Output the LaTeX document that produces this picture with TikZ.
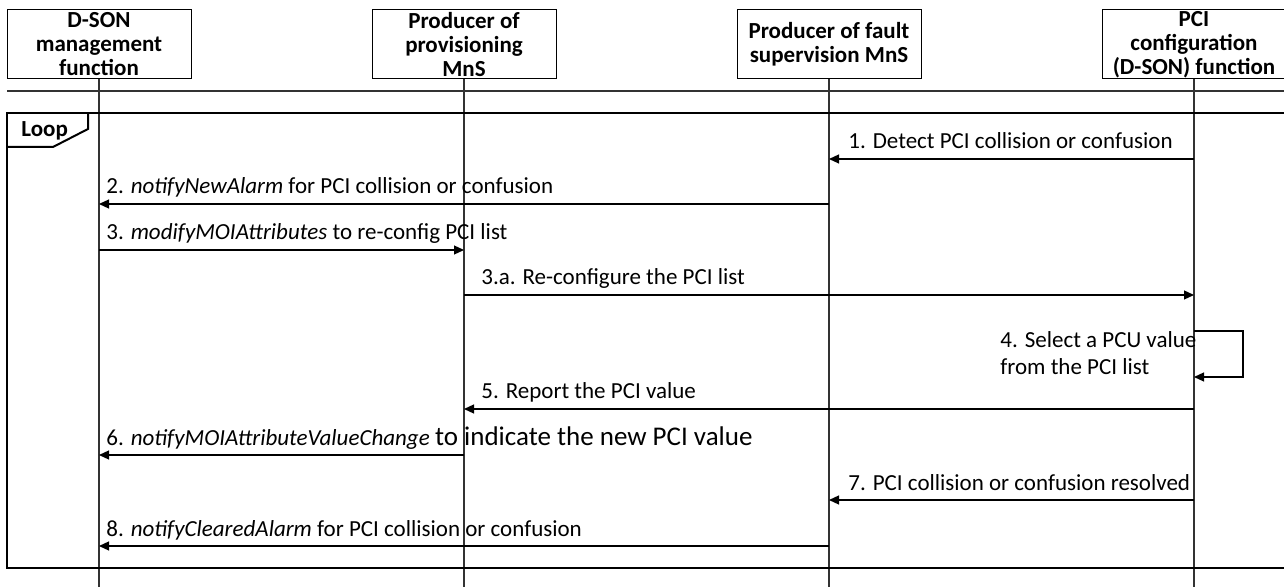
\documentclass[tikz,border=0pt]{standalone}
\usepackage{fontspec}
\setmainfont{Carlito}
\usetikzlibrary{arrows.meta}

\begin{document}
\begin{tikzpicture}[x=0.5pt, y=-0.5pt]

\tikzset{party/.style = {shape=rectangle, draw, line width=0.5pt, minimum width=92pt, minimum height=34.5pt, inner sep=0pt, align=center, font=\fontsize{11.5}{12}\selectfont\bfseries}}
\tikzset{lifeline/.style = {line width=0.6pt, draw=black!80}}
\tikzset{msg/.style = {->, > = {Triangle[length=5pt, width=4.5pt]}, line width=0.6pt}}
\tikzset{lbl/.style = {anchor=base west, inner sep=0pt, font=\fontsize{11.5}{13.5}\selectfont}}
\tikzset{frame/.style = {line width=1pt}}

\useasboundingbox (0,0) rectangle (1284,587);

%participants
\node[party] (dson) at (99,44.5) {D-SON\\management\\function};
\node[party] (prov) at (464,44.5) {Producer of\\provisioning\\MnS};
\node[party] (fault) at (829,44.5) {Producer of fault\\supervision MnS};
\node[party] (pci) at (1194,44.5) {PCI\\configuration\\(D-SON) function};

%lifelines
\foreach \p in {dson, prov, fault, pci}
  \draw[lifeline] (\p.south) -- (\p |- 0,587);
\draw[lifeline] (7,91) -- (1292,91);

%loop frame
\draw[frame] (7,113) rectangle (1292,568);
\draw[frame] (88,113) -- (88,129) -- (53,147) -- (7,147);
\node[lbl, font=\fontsize{11.5}{13.5}\selectfont\bfseries] (loop) at (21,137) {Loop};

%messages
\draw[msg] (pci |- 0,159) -- (fault |- 0,159);
\node[lbl] (m1) at (848,149) {1. Detect PCI collision or confusion};
\draw[msg] (fault |- 0,204) -- (dson |- 0,204);
\node[lbl] (m2) at (106,194) {2. \textit{notifyNewAlarm} for PCI collision or confusion};
\draw[msg] (dson |- 0,250) -- (prov |- 0,250);
\node[lbl] (m3) at (106,240) {3. \textit{modifyMOIAttributes} to re-config PCI list};
\draw[msg] (prov |- 0,295) -- (pci |- 0,295);
\node[lbl] (m3a) at (481,285) {3.a. Re-configure the PCI list};
\draw[msg] (pci |- 0,331) -- ++(49,0) |- (pci |- 0,377);
\node[lbl, anchor=north west, align=left] (m4) at (1000,331) {4. Select a PCU value\\from the PCI list};
\draw[msg] (pci |- 0,409) -- (prov |- 0,409);
\node[lbl] (m5) at (481,399) {5. Report the PCI value};
\draw[msg] (prov |- 0,455) -- (dson |- 0,455);
\node[lbl] (m6) at (106,445) {6. \textit{notifyMOIAttributeValueChange} {\fontsize{13.5}{16}\selectfont to indicate the new PCI value}};
\draw[msg] (pci |- 0,500) -- (fault |- 0,500);
\node[lbl] (m7) at (848,490) {7. PCI collision or confusion resolved};
\draw[msg] (fault |- 0,546) -- (dson |- 0,546);
\node[lbl] (m8) at (106,536) {8. \textit{notifyClearedAlarm} for PCI collision or confusion};

\end{tikzpicture}
\end{document}
